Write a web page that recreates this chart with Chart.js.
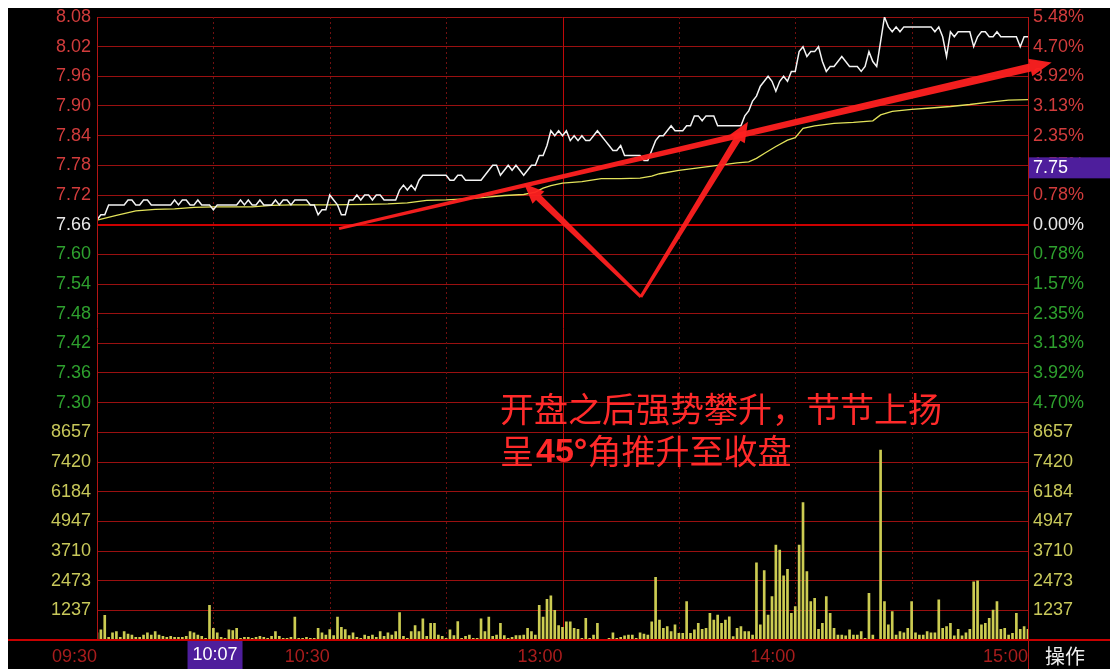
<!DOCTYPE html>
<html><head><meta charset="utf-8">
<script src="https://cdn.jsdelivr.net/npm/chart.js@4/dist/chart.umd.min.js"></script>
<style>
html,body{margin:0;padding:0;background:#fff;width:1110px;height:669px;overflow:hidden;}
#wrap{position:absolute;left:8px;top:8px;width:1102px;height:661px;background:#000;}
canvas{display:block;}
</style></head><body>
<div id="wrap"><canvas id="c" width="1102" height="661"></canvas></div>
<script>
const prevClose = 7.66;
// one value per minute, 09:30..11:30 (0-120) and 13:01..15:00 (121-240)
const prices = [
7.67,7.68,7.68,7.70,7.70,7.70,7.70,7.70,7.71,7.71,
7.70,7.70,7.71,7.71,7.70,7.70,7.70,7.70,7.70,7.70,
7.71,7.70,7.71,7.71,7.70,7.70,7.71,7.70,7.70,7.70,
7.69,7.70,7.70,7.70,7.70,7.70,7.70,7.71,7.70,7.71,
7.70,7.70,7.71,7.70,7.70,7.70,7.71,7.70,7.71,7.71,
7.70,7.71,7.71,7.71,7.71,7.70,7.70,7.68,7.69,7.69,
7.72,7.71,7.70,7.68,7.68,7.71,7.71,7.72,7.71,7.72,
7.72,7.71,7.72,7.72,7.71,7.71,7.71,7.71,7.73,7.74,
7.73,7.74,7.73,7.75,7.76,7.76,7.76,7.76,7.76,7.76,
7.76,7.75,7.75,7.76,7.76,7.75,7.75,7.75,7.75,7.75,
7.76,7.77,7.78,7.78,7.76,7.77,7.78,7.77,7.78,7.77,
7.76,7.77,7.78,7.78,7.80,7.80,7.82,7.85,7.84,7.85,
7.84,
7.85,7.83,7.84,7.83,7.84,7.83,7.83,7.84,7.85,7.84,
7.83,7.82,7.81,7.81,7.82,7.80,7.80,7.80,7.80,7.80,
7.79,7.79,7.81,7.83,7.84,7.84,7.85,7.86,7.85,7.85,
7.85,7.86,7.86,7.88,7.88,7.87,7.88,7.88,7.88,7.86,
7.86,7.86,7.86,7.86,7.86,7.86,7.88,7.89,7.91,7.92,
7.94,7.95,7.96,7.95,7.93,7.95,7.96,7.95,7.97,7.97,
8.01,8.02,8.00,8.01,8.01,8.02,7.99,7.97,7.98,7.98,
7.99,8.00,7.99,7.98,7.98,7.98,7.97,7.98,8.01,7.99,
7.98,8.03,8.08,8.06,8.05,8.06,8.05,8.06,8.06,8.06,
8.06,8.06,8.06,8.06,8.06,8.05,8.06,8.04,8.00,8.05,
8.04,8.05,8.05,8.05,8.05,8.02,8.04,8.05,8.05,8.04,
8.04,8.05,8.04,8.04,8.04,8.04,8.04,8.02,8.04,8.04
];
const avgMinutes = [0,5,10,15,20,25,30,40,45,50,60,70,75,80,85,90,95,100,105,110,113,115,117,120,
  125,130,135,140,143,145,150,155,160,165,168,170,172,175,178,180,182,185,190,195,200,202,205,210,215,220,225,230,235,240];
const avgPrices = [7.669,7.679,7.688,7.691,7.692,7.695,7.696,7.696,7.699,7.700,7.700,7.701,7.702,7.704,7.709,7.710,7.712,7.715,7.719,7.721,7.726,7.734,7.739,7.744,
  7.747,7.753,7.753,7.754,7.758,7.763,7.770,7.775,7.780,7.785,7.787,7.794,7.804,7.818,7.831,7.836,7.855,7.860,7.865,7.867,7.870,7.882,7.889,7.893,7.896,7.899,7.903,7.908,7.912,7.913];
const volumes = [
300,420,1030,110,300,350,110,350,250,210,
110,110,210,300,210,350,210,150,110,150,
110,110,110,150,350,300,210,150,70,1450,
490,300,110,70,420,390,490,70,110,110,
70,110,150,110,70,150,350,150,70,70,
110,960,70,70,110,70,70,490,300,210,
430,180,960,530,430,180,300,110,70,210,
150,210,110,350,150,300,210,350,1140,150,
70,350,600,350,880,150,700,700,210,150,
70,420,180,770,70,150,210,70,70,880,
350,960,150,210,700,180,70,110,180,180,
210,490,350,210,1450,960,1700,1840,1240,600,
530,
760,760,490,440,70,900,70,210,700,20,
30,70,300,70,110,170,210,210,70,300,
250,210,760,2610,830,490,560,350,630,280,
280,1600,280,420,700,440,490,1110,830,1040,
700,830,970,140,490,560,350,350,210,3220,
630,2890,1040,1810,3960,3750,2670,2950,1110,1390,
3960,5730,2850,1600,1740,440,700,1810,1110,490,
210,210,170,420,210,210,350,70,1950,210,
30,7920,1600,630,1180,210,350,300,490,1600,
300,210,210,350,300,300,1670,490,560,700,
170,440,170,300,440,2430,2470,630,700,900,
1250,1600,440,490,210,280,1110,440,560,440
];
const priceTicks = [8.08,8.02,7.96,7.90,7.84,7.78,7.72,7.66,7.60,7.54,7.48,7.42,7.36,7.30,7.24];
const volumeTicks = [8657,7420,6184,4947,3710,2473,1237,0];
const timeTickMinutes = [0,60,120,180,240];
const timeTickLabels = ['09:30','10:30','13:00','14:00','15:00'];
const gridMinutes = [30,60,90,120,150,180,210];
const cursorMinute = 37, cursorTimeLabel = '10:07', cursorPriceLabel = '7.75';

const AXFONT = {family:'"Liberation Sans", Arial, sans-serif', size:18};
const isClose = v => Math.abs(v - prevClose) < 1e-6;
const priceColor = v => isClose(v) ? '#e8e8e8' : (v > prevClose ? '#d23c3c' : '#2ea02e');
const GRID = '#9a1010';
const noPad = w => s => { s.width = w; s.paddingTop = 0; s.paddingBottom = 0; s.paddingLeft = 0; s.paddingRight = 0; };

function arrow(ctx,x1,y1,x2,y2,w1,w2,hl,hw){
  const dx=x2-x1, dy=y2-y1, L=Math.hypot(dx,dy), ux=dx/L, uy=dy/L, nx=-uy, ny=ux;
  const bx=x2-ux*hl, by=y2-uy*hl;
  ctx.beginPath();
  ctx.moveTo(x1+nx*w1/2,y1+ny*w1/2);
  ctx.lineTo(bx+nx*w2/2,by+ny*w2/2);
  ctx.lineTo(bx+nx*hw/2,by+ny*hw/2);
  ctx.lineTo(x2,y2);
  ctx.lineTo(bx-nx*hw/2,by-ny*hw/2);
  ctx.lineTo(bx-nx*w2/2,by-ny*w2/2);
  ctx.lineTo(x1-nx*w1/2,y1-ny*w1/2);
  ctx.closePath(); ctx.fill();
}

const decor = {
  id:'decor',
  beforeDatasetsDraw(chart){
    const {ctx, chartArea:a, scales:{x}} = chart;
    ctx.save();
    ctx.lineWidth = 1;
    gridMinutes.forEach(m=>{
      const px = Math.round(x.getPixelForValue(m))+0.5;
      ctx.beginPath();
      if (m===120){ ctx.setLineDash([]); ctx.strokeStyle='#c00808'; }
      else { ctx.setLineDash([2,3]); ctx.strokeStyle='#701010'; }
      ctx.moveTo(px,a.top); ctx.lineTo(px,a.bottom); ctx.stroke();
    });
    ctx.restore();
  },
  afterDraw(chart){
    const {ctx, chartArea:a, scales:{x, yPrice, yPct}} = chart;
    const W = chart.width, H = chart.height;
    ctx.save();
    ctx.strokeStyle = '#b41414'; ctx.lineWidth = 1;
    ctx.beginPath(); ctx.moveTo(Math.round(a.left)+0.5, a.top); ctx.lineTo(Math.round(a.left)+0.5, a.bottom); ctx.stroke();
    ctx.beginPath(); ctx.moveTo(Math.round(a.right)+0.5, a.top); ctx.lineTo(Math.round(a.right)+0.5, H); ctx.stroke();
    ctx.strokeStyle = '#c80000'; ctx.lineWidth = 2;
    ctx.beginPath(); ctx.moveTo(0, Math.round(a.bottom)); ctx.lineTo(W, Math.round(a.bottom)); ctx.stroke();

    const by = yPct.getPixelForValue(7.78) + 3;
    ctx.fillStyle = '#4e1e9c';
    ctx.fillRect(a.right+1, by-11, W-a.right-1, 21);
    ctx.fillStyle = '#ffffff'; ctx.font = '18px "Liberation Sans", Arial, sans-serif';
    ctx.textBaseline = 'middle'; ctx.textAlign = 'left';
    ctx.fillText(cursorPriceLabel, a.right+5, by);
    const tx = x.getPixelForValue(cursorMinute) + 2;
    ctx.fillStyle = '#4e1e9c';
    ctx.fillRect(tx-55, a.bottom+1, 55, H-a.bottom-1);
    ctx.fillStyle = '#ffffff'; ctx.textAlign = 'center';
    ctx.fillText(cursorTimeLabel, tx-27.5, a.bottom + 15);
    ctx.font = '20px "Noto Sans CJK SC", sans-serif'; ctx.textAlign = 'left';
    ctx.fillStyle = '#eeeeee';
    ctx.fillText('操作', a.right+17, a.bottom+16);

    const P = (m,p)=>[x.getPixelForValue(m), yPrice.getPixelForValue(p)];
    ctx.fillStyle = 'rgba(255,32,32,0.95)';
    const s = P(62.4,7.652), e = P(246.1,7.988);
    arrow(ctx, s[0],s[1], e[0],e[1], 3, 8, 22, 18);
    const v = P(140.2,7.514), l = P(110.1,7.743), r = P(167.8,7.868);
    arrow(ctx, v[0],v[1], l[0],l[1], 3, 7, 20, 17);
    arrow(ctx, v[0],v[1], r[0],r[1], 3, 7, 20, 17);

    ctx.fillStyle = '#ff2a2a'; ctx.textBaseline = 'middle'; ctx.textAlign = 'left';
    const cjk = '34px "Noto Sans CJK SC", sans-serif';
    ctx.font = cjk;
    ctx.fillText('开盘之后强势攀升，节节上扬', 492, 401);
    let tx2 = 492;
    ctx.fillText('呈', tx2, 443); tx2 += ctx.measureText('呈').width + 2;
    ctx.font = 'bold 34px "Liberation Sans", Arial, sans-serif';
    ctx.fillText('45°', tx2, 445); tx2 += ctx.measureText('45°').width;
    ctx.font = cjk;
    ctx.fillText('角推升至收盘', tx2, 443);
    ctx.restore();
  }
};

const chart = new Chart(document.getElementById('c'), {
  type: 'line',
  data: {
    datasets: [
      { type:'line', label:'price', data: prices.map((p,i)=>({x:i,y:p})), yAxisID:'yPrice',
        borderColor:'#f4f4f4', borderWidth:1.5, pointRadius:0, tension:0, order:1 },
      { type:'line', label:'avg', data: avgMinutes.map((m,i)=>({x:m,y:avgPrices[i]})), yAxisID:'yPrice',
        borderColor:'#e2e25a', borderWidth:1.3, pointRadius:0, tension:0, order:2 },
      { type:'bar', label:'vol', data: volumes.map((v,i)=>({x:i,y:v})), yAxisID:'yVol',
        backgroundColor:'#cccc52', barThickness:2, order:3 }
    ]
  },
  options: {
    responsive:false, animation:false, devicePixelRatio:1,
    layout:{ padding:{ top:9, left:0, right:0, bottom:0 } },
    plugins:{ legend:{display:false}, tooltip:{enabled:false} },
    scales:{
      x:{ type:'linear', min:0, max:240, offset:false,
        grid:{display:false}, border:{display:false},
        afterBuildTicks: s => { s.ticks = timeTickMinutes.map(v=>({value:v})); },
        afterFit: s => { s.height = 29; s.paddingLeft = 0; s.paddingRight = 0; s.paddingTop = 0; s.paddingBottom = 0; },
        ticks:{ autoSkip:false, maxRotation:0, align:'end', padding:-2, color:'#a81c1c', font:AXFONT,
          callback:(v,i)=> timeTickLabels[i] }
      },
      yPrice:{ type:'linear', position:'left', stack:'L', stackWeight:2, weight:2, min:7.24, max:8.08,
        afterBuildTicks: s => { s.ticks = priceTicks.map(v=>({value:v})); },
        afterFit: noPad(89),
        grid:{ drawTicks:false, color: c => isClose(c.tick.value) ? '#cc0000' : GRID,
          lineWidth: c => isClose(c.tick.value) ? 2 : 1 },
        border:{display:false},
        ticks:{ autoSkip:false, padding:6, font:AXFONT, color: c => priceColor(c.tick.value),
          callback: v => Math.abs(v-7.24)<1e-6 ? '' : v.toFixed(2) }
      },
      yVol:{ type:'linear', position:'left', stack:'L', stackWeight:1, weight:1, min:0, max:8657,
        afterBuildTicks: s => { s.ticks = volumeTicks.map(v=>({value:v})); },
        afterFit: noPad(89),
        grid:{ drawTicks:false, color: GRID },
        border:{display:false},
        ticks:{ autoSkip:false, padding:6, font:AXFONT, color:'#c8c85a', callback: v => v===0 ? '' : String(v) }
      },
      yPct:{ type:'linear', position:'right', stack:'R', stackWeight:2, weight:1, min:7.24, max:8.08,
        afterBuildTicks: s => { s.ticks = priceTicks.map(v=>({value:v})); },
        afterFit: noPad(82),
        grid:{ display:false, drawTicks:false }, border:{display:false},
        ticks:{ autoSkip:false, padding:5, font:AXFONT, color: c => priceColor(c.tick.value),
          callback: v => Math.abs(v-7.24)<1e-6 ? '' : (Math.abs(v-prevClose)/prevClose*100).toFixed(2)+'%' }
      },
      yVolR:{ type:'linear', position:'right', stack:'R', stackWeight:1, weight:2, min:0, max:8657,
        afterBuildTicks: s => { s.ticks = volumeTicks.map(v=>({value:v})); },
        afterFit: noPad(82),
        grid:{ display:false, drawTicks:false }, border:{display:false},
        ticks:{ autoSkip:false, padding:5, font:AXFONT, color:'#c8c85a', callback: v => v===0 ? '' : String(v) }
      }
    }
  },
  plugins:[decor]
});
</script>
</body></html>
